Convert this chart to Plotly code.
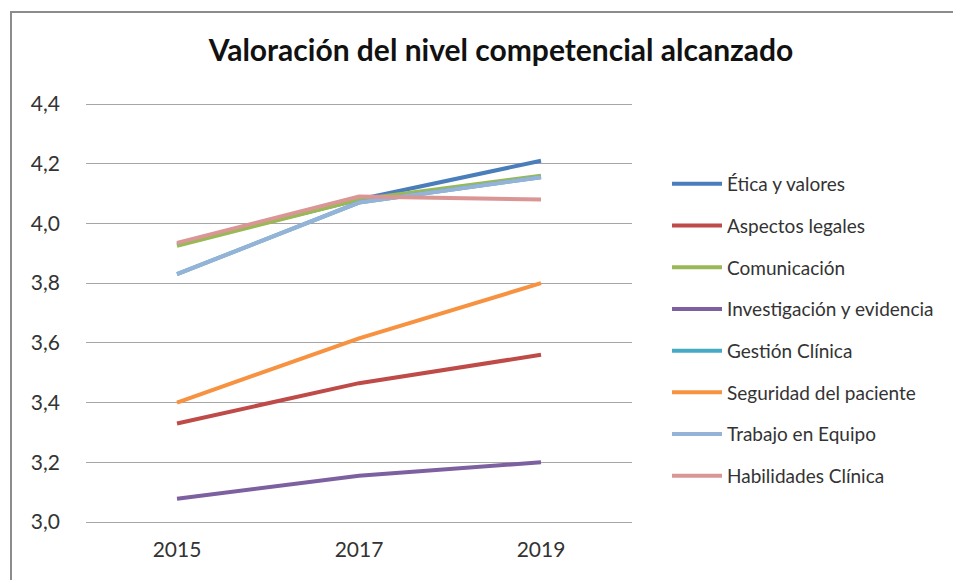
import plotly.graph_objects as go

years = ["2015", "2017", "2019"]
etica = [3.93, 4.08, 4.21]
aspectos = [3.33, 3.465, 3.56]
comunicacion = [3.925, 4.08, 4.16]
investigacion = [3.078, 3.155, 3.20]
gestion = [3.83, 4.07, 4.155]
seguridad = [3.40, 3.615, 3.80]
trabajo = [3.83, 4.07, 4.155]
habilidades = [3.935, 4.09, 4.08]
y_ticks = [3.0, 3.2, 3.4, 3.6, 3.8, 4.0, 4.2, 4.4]

series = [
    ("Ética y valores", etica, "#4A7EBB"),
    ("Aspectos legales", aspectos, "#BE4B48"),
    ("Comunicación", comunicacion, "#98B954"),
    ("Investigación y evidencia", investigacion, "#7D60A0"),
    ("Gestión Clínica", gestion, "#46AAC5"),
    ("Seguridad del paciente", seguridad, "#F69240"),
    ("Trabajo en Equipo", trabajo, "#95B3D7"),
    ("Habilidades Clínica", habilidades, "#D99694"),
]

FONT = "Lato"
W, H = 953, 572
L, R, T, B = 78, 329, 94, 56
PW = W - L - R
PH = H - T - B

fig = go.Figure()
for i, (name, vals, col) in enumerate(series):
    fig.add_trace(go.Scatter(
        x=years, y=vals, name=name, mode="lines",
        line=dict(color=col, width=4), legendgroup=f"g{i}",
    ))

fig.update_layout(
    width=W, height=H,
    paper_bgcolor="white", plot_bgcolor="white",
    separators=",.",
    margin=dict(l=L, r=R, t=T, b=B),
    title=dict(text="<b>Valoración del nivel competencial alcanzado</b>",
               x=493 / W, xanchor="center", y=1 - 42 / H, yanchor="middle",
               font=dict(family=FONT, size=30, color="#111")),
    font=dict(family=FONT, color="#333"),
    showlegend=True,
    legend=dict(x=(659 - L) / PW, y=(H - B - 157) / PH, xanchor="left", yanchor="top",
                font=dict(family=FONT, size=19, color="#333"),
                tracegroupgap=14, itemwidth=50, bgcolor="rgba(0,0,0,0)"),
    xaxis=dict(type="category", range=[-0.5, 2.5], showgrid=False,
               showline=False, ticks="", tickfont=dict(size=21, color="#333"),
               ticklabelstandoff=11),
    yaxis=dict(range=[2.9933, 4.4067], tickvals=y_ticks, tickformat=".1f",
               showgrid=True, gridcolor="#a6a6a6", gridwidth=1.3,
               zeroline=False, showline=False, ticks="",
               tickfont=dict(size=21, color="#333"), ticklabelstandoff=25),
)
fig.add_shape(type="rect", xref="paper", yref="paper",
              x0=(3 - L) / PW, x1=1.7, y0=-0.5, y1=(H - B - 4) / PH,
              line=dict(color="#8c8c8c", width=2), fillcolor="rgba(0,0,0,0)")
fig.write_html("out.html")
